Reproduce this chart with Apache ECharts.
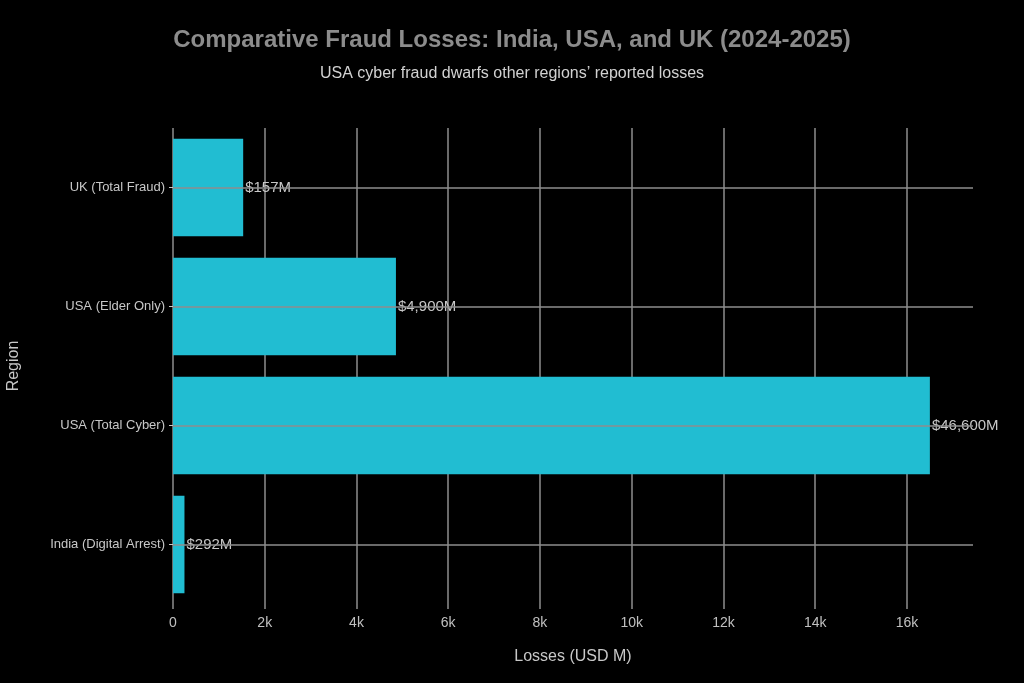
<!DOCTYPE html>
<html>
<head>
<meta charset="utf-8">
<script src="https://cdn.jsdelivr.net/npm/echarts@6/dist/echarts.min.js"></script>
<style>
html,body{margin:0;padding:0;background:#000;}
#chart{width:1024px;height:683px;}
</style>
</head>
<body>
<div id="chart"></div>
<script>
const categories = ['India (Digital Arrest)', 'USA (Total Cyber)', 'USA (Elder Only)', 'UK (Total Fraud)'];
const values = [250, 16500, 4860, 1530];
const valueLabels = ['$292M', '$46,600M', '$4,900M', '$157M'];
const xTickLabels = ['0', '2k', '4k', '6k', '8k', '10k', '12k', '14k', '16k'];

const chart = echarts.init(document.getElementById('chart'));
const font = '"Liberation Sans", Arial, sans-serif';
chart.setOption({
  backgroundColor: '#000',
  animation: false,
  title: {
    text: 'Comparative Fraud Losses: India, USA, and UK (2024-2025)',
    subtext: 'USA cyber fraud dwarfs other regions\u2019 reported losses',
    left: 'center',
    top: 23,
    itemGap: 14,
    textStyle: { color: '#8c8c8c', fontSize: 24, fontWeight: 'bold', fontFamily: font },
    subtextStyle: { color: '#d2d2d2', fontSize: 16, fontFamily: font }
  },
  grid: { left: 173, right: 51, top: 128, bottom: 79, containLabel: false, outerBoundsMode: 'none' },
  xAxis: {
    type: 'value',
    min: 0,
    max: 17440,
    interval: 2000,
    name: 'Losses (USD M)',
    nameLocation: 'middle',
    nameGap: 45,
    nameTextStyle: { color: '#c8c8c8', fontSize: 16, fontFamily: font },
    axisLine: { show: false },
    axisTick: { show: true, length: 5, lineStyle: { color: '#8e8e8e', width: 1.5 } },
    axisLabel: {
      color: '#c0c0c0', fontSize: 14, fontFamily: font, margin: 12,
      showMaxLabel: false,
      formatter: function (v) { const i = Math.round(v / 2000); return (v % 2000 === 0 && i < xTickLabels.length) ? xTickLabels[i] : ''; }
    },
    splitLine: { show: true, showMaxLine: false, lineStyle: { color: '#8e8e8e', width: 1.5 } }
  },
  yAxis: {
    type: 'category',
    data: categories,
    name: 'Region',
    nameLocation: 'middle',
    nameGap: 151,
    nameRotate: 90,
    nameTextStyle: { color: '#c8c8c8', fontSize: 16, fontFamily: font },
    axisLine: { show: false },
    axisTick: { show: true, alignWithLabel: true, length: 4, lineStyle: { color: '#c8c8c8' } },
    axisLabel: { color: '#c8c8c8', fontSize: 13, fontFamily: font, margin: 8 },
    splitLine: { show: false }
  },
  series: [{
    type: 'bar',
    data: values.map((v, i) => ({ value: v, label: { formatter: valueLabels[i] } })),
    barCategoryGap: '18%',
    itemStyle: { color: '#21bdd2' },
    label: { show: true, position: 'right', distance: 2, color: '#c8c8c8', fontSize: 15, fontFamily: font },
    markLine: {
      silent: true,
      symbol: 'none',
      label: { show: false },
      lineStyle: { color: '#8e8e8e', width: 1.5, type: 'solid' },
      data: categories.map(c => ({ yAxis: c }))
    }
  }]
});
</script>
</body>
</html>
